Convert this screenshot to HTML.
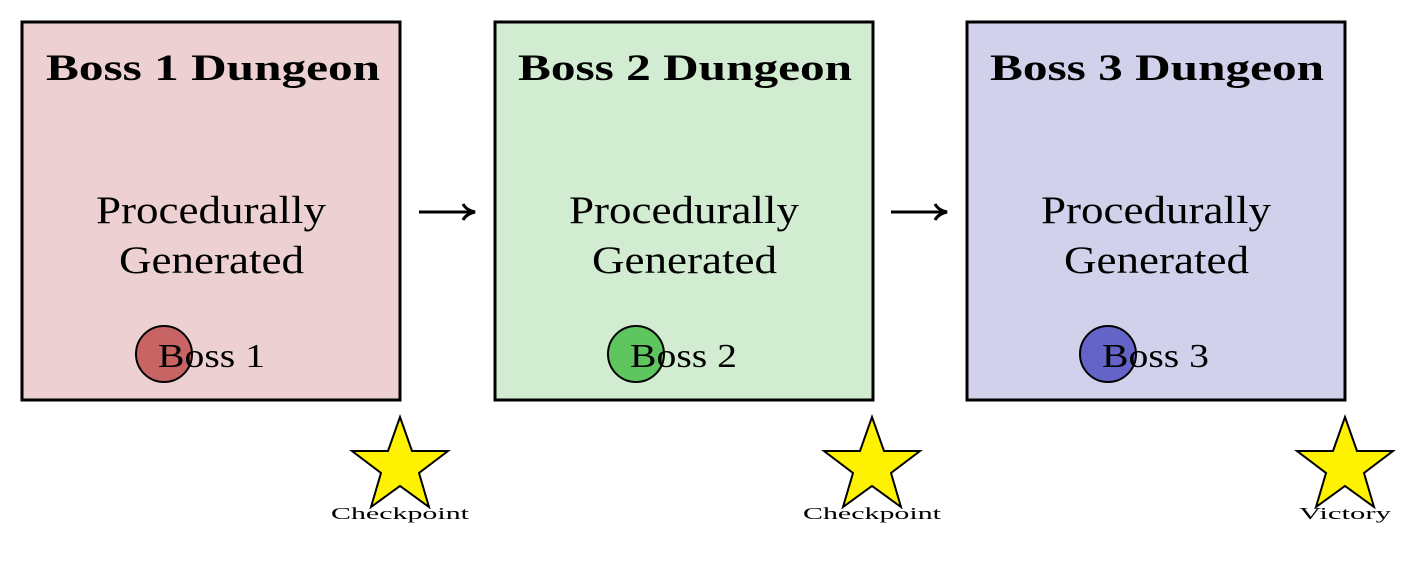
<!DOCTYPE html>
<html><head><style>
body{margin:0;width:1426px;height:558px;background:#fff;overflow:hidden}
svg text{font-family:"Liberation Serif",serif;fill:#000}
</style></head><body>
<svg width="1426" height="558" viewBox="0 0 1426 558">
<defs>
<g id="star"><polygon points="0,-45 12,-11 48,-11 19,11 29,45 0,24 -29,45 -19,11 -48,-11 -12,-11" fill="#fff200" stroke="#000" stroke-width="2" stroke-linejoin="miter"/></g>
</defs>
<rect x="22" y="22" width="378" height="378" fill="#edd1d2" stroke="#000" stroke-width="3"/>
<rect x="495" y="22" width="378" height="378" fill="#d1ecd1" stroke="#000" stroke-width="3"/>
<rect x="967" y="22" width="378" height="378" fill="#d1d1ec" stroke="#000" stroke-width="3"/>
<g font-size="37" font-weight="bold">
<text x="46" y="80" textLength="334" lengthAdjust="spacingAndGlyphs">Boss 1 Dungeon</text>
<text x="518" y="80" textLength="334" lengthAdjust="spacingAndGlyphs">Boss 2 Dungeon</text>
<text x="990" y="80" textLength="334" lengthAdjust="spacingAndGlyphs">Boss 3 Dungeon</text>
</g>
<g font-size="39">
<text x="96" y="223" textLength="230" lengthAdjust="spacingAndGlyphs">Procedurally</text><text x="119" y="273" textLength="185" lengthAdjust="spacingAndGlyphs">Generated</text>
<text x="569" y="223" textLength="230" lengthAdjust="spacingAndGlyphs">Procedurally</text><text x="592" y="273" textLength="185" lengthAdjust="spacingAndGlyphs">Generated</text>
<text x="1041" y="223" textLength="230" lengthAdjust="spacingAndGlyphs">Procedurally</text><text x="1064" y="273" textLength="185" lengthAdjust="spacingAndGlyphs">Generated</text>
</g>
<circle cx="164" cy="354" r="28" fill="#c86464" stroke="#000" stroke-width="2"/>
<circle cx="636" cy="354" r="28" fill="#5fc65f" stroke="#000" stroke-width="2"/>
<circle cx="1108" cy="354" r="28" fill="#6464c8" stroke="#000" stroke-width="2"/>
<g font-size="34">
<text x="158" y="367" textLength="107" lengthAdjust="spacingAndGlyphs">Boss 1</text>
<text x="630" y="367" textLength="107" lengthAdjust="spacingAndGlyphs">Boss 2</text>
<text x="1102" y="367" textLength="107" lengthAdjust="spacingAndGlyphs">Boss 3</text>
</g>
<g stroke="#000" stroke-width="3" fill="none">
<line x1="419" y1="212" x2="473" y2="212"/><path d="M463,204 Q466,210 475,212 Q466,214 463,220"/>
<line x1="891" y1="212" x2="945" y2="212"/><path d="M935,204 Q938,210 947,212 Q938,214 935,220"/>
</g>
<use href="#star" transform="translate(400,462)"/>
<use href="#star" transform="translate(872,462)"/>
<use href="#star" transform="translate(1345,462)"/>
<g font-size="17">
<text x="331" y="519" textLength="138" lengthAdjust="spacingAndGlyphs">Checkpoint</text>
<text x="803" y="519" textLength="138" lengthAdjust="spacingAndGlyphs">Checkpoint</text>
<text x="1299" y="519" textLength="92" lengthAdjust="spacingAndGlyphs">Victory</text>
</g>
</svg>
</body></html>
